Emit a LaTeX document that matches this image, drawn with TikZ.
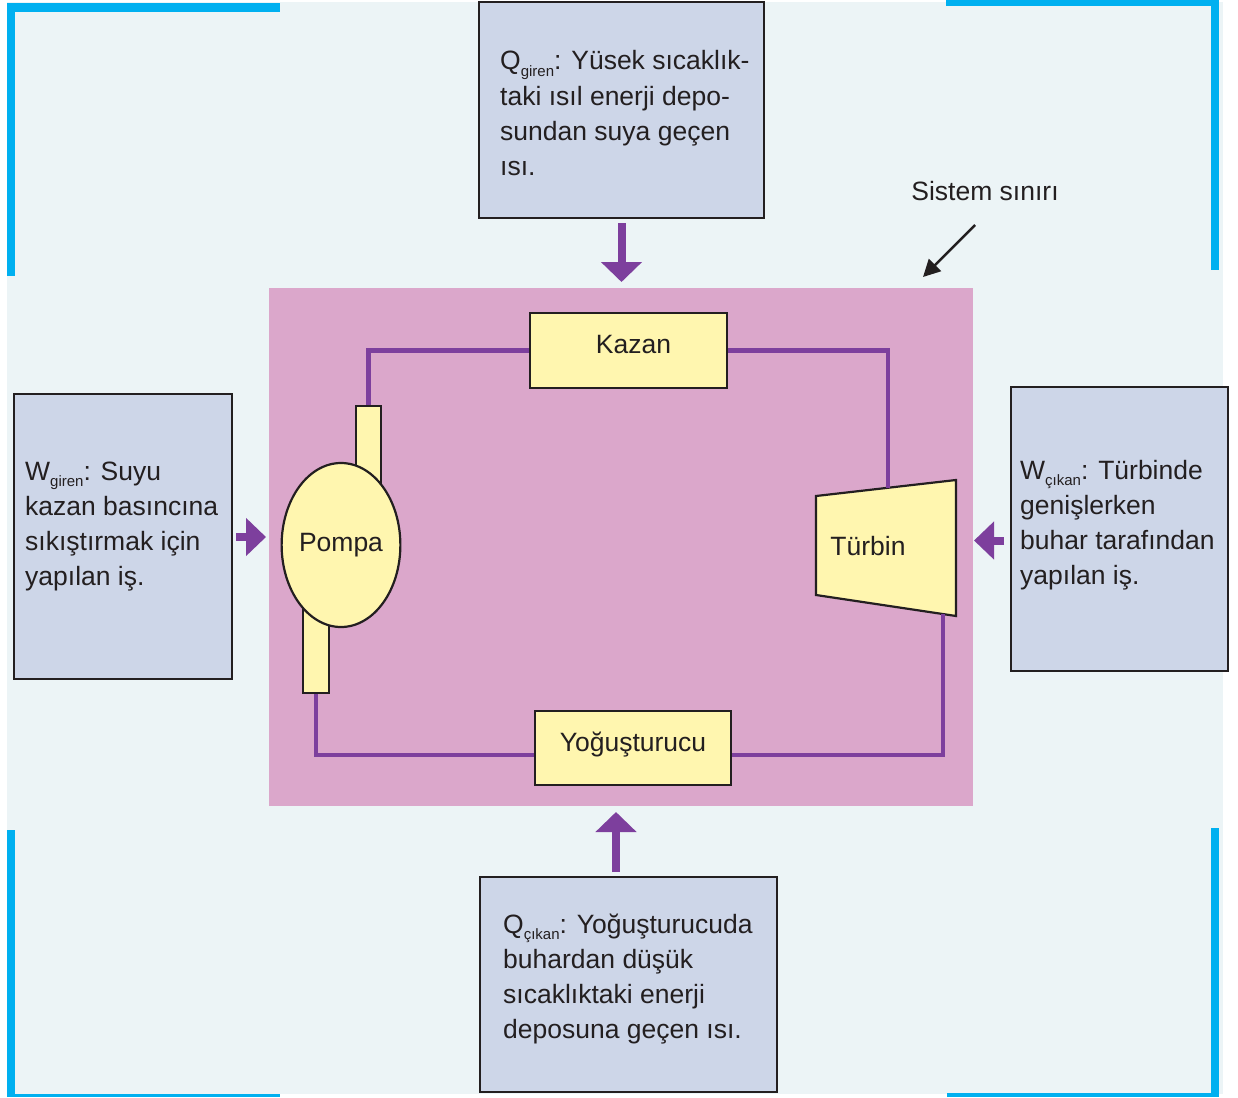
\documentclass[tikz,border=0pt]{standalone}
\usepackage{fontspec}
\setmainfont{Liberation Sans}
\usetikzlibrary{arrows.meta,shapes.geometric,calc}
\definecolor{panelbg}{RGB}{236,244,246}
\definecolor{frameblue}{RGB}{0,176,240}
\definecolor{syspink}{RGB}{219,167,203}
\definecolor{boxblue}{RGB}{205,214,232}
\definecolor{partyellow}{RGB}{255,246,175}
\definecolor{flowpurple}{RGB}{125,63,157}
\definecolor{edgegray}{RGB}{35,31,32}
\newcommand\lowsub[1]{\raisebox{-0.45ex}{\fontsize{15}{15}\selectfont #1}}
\begin{document}
\begin{tikzpicture}[x=1pt,y=-1pt,
  every node/.style={font=\fontsize{26.5}{35}\selectfont, text=edgegray},
  frame/.style={fill=frameblue, draw=none},
  infobox/.style={draw=edgegray, line width=2.2pt, fill=boxblue, inner sep=0pt},
  infotext/.style={align=left, inner sep=0pt, anchor=base west},
  part/.style={draw=edgegray, line width=2.2pt, fill=partyellow, inner sep=0pt},
  flow/.style={draw=flowpurple, line width=4.5pt},
  bigarrow/.style={draw=flowpurple, line width=8pt, -{Triangle[width=40pt,length=20pt]}}
]
\useasboundingbox (0,0) rectangle (1238,1097);
\fill[white] (0,0) rectangle (1238,1097);
\fill[panelbg] (7,2) rectangle (1223,1094);
% blue corner brackets
\fill[frame] (7,3) rectangle (280,12);
\fill[frame] (7,3) rectangle (15,276);
\fill[frame] (946,0) rectangle (1219,6);
\fill[frame] (1211,0) rectangle (1219,270);
\fill[frame] (7,830) rectangle (15,1097);
\fill[frame] (7,1094) rectangle (280,1097);
\fill[frame] (1211,828) rectangle (1219,1097);
\fill[frame] (947,1093) rectangle (1219,1097);
% system boundary
\node[fill=syspink, inner sep=0pt, minimum width=704pt, minimum height=518pt] (sys) at (621,547) {};
% info boxes
\node[infobox, minimum width=285pt, minimum height=216pt] (qin) at (621.5,110) {};
\node[infobox, minimum width=218pt, minimum height=285pt] (win) at (123,536.5) {};
\node[infobox, minimum width=217pt, minimum height=284pt] (wout) at (1119.5,529) {};
\node[infobox, minimum width=297pt, minimum height=215pt] (qout) at (628.5,984.5) {};
\node[infotext] (qintext) at (500,175) {Q\lowsub{giren}: Yüsek sıcaklık-\\taki ısıl enerji depo-\\sundan suya geçen\\ısı.};
\node[infotext] (wintext) at (25,585) {W\lowsub{giren}: Suyu\\kazan basıncına\\sıkıştırmak için\\yapılan iş.};
\node[infotext] (wouttext) at (1020,584) {W\lowsub{çıkan}: Türbinde\\genişlerken\\buhar tarafından\\yapılan iş.};
\node[infotext] (qouttext) at (503,1038) {Q\lowsub{çıkan}: Yoğuşturucuda\\buhardan düşük\\sıcaklıktaki enerji\\deposuna geçen ısı.};
% components
\node[part, minimum width=197pt, minimum height=75pt] (kazan) at (628.5,350.5) {\hspace{10pt}\raisebox{12pt}{Kazan}};
\node[part, minimum width=196pt, minimum height=74pt] (yog) at (633,748) {\raisebox{13pt}{Yoğuşturucu}\hspace{4pt}};
\node[part, minimum width=25pt, minimum height=94pt] (pipeup) at (368.5,453) {};
\node[part, minimum width=26pt, minimum height=93pt] (pipedn) at (316,646.5) {};
\node[part, ellipse, minimum width=118pt, minimum height=164pt] (pompa) at (341,545) {\raisebox{3pt}{Pompa}};
\draw[part] (816,496) coordinate (t1) -- (956,480) coordinate (t2) -- (956,616) coordinate (t3) -- (816,595) coordinate (t4) -- cycle;
\node[inner sep=0pt] (turbin) at (868,546) {Türbin};
\coordinate (ttop) at (888,488);
\coordinate (tbot) at (943,614);
% flow lines
\draw[flow] (kazan.west) -| (pipeup.north);
\draw[flow] (kazan.east) -| (ttop);
\draw[flow] (tbot) |- ([yshift=-7pt]yog.east);
\draw[flow] ([yshift=-7pt]yog.west) -| (pipedn.south);
% energy arrows
\coordinate (qinA) at (621.5,223);
\coordinate (qinB) at (621.5,282);
\draw[bigarrow] (qinA) -- (qinB);
\coordinate (qoutA) at (616,872);
\coordinate (qoutB) at (616,812);
\draw[bigarrow] (qoutA) -- (qoutB);
\coordinate (winA) at (236,537);
\coordinate (winB) at (266,537);
\draw[draw=flowpurple, line width=8pt, -{Triangle[width=37pt,length=20pt]}] (winA) -- (winB);
\coordinate (woutA) at (1004,540.5);
\coordinate (woutB) at (974,540.5);
\draw[draw=flowpurple, line width=8pt, -{Triangle[width=37pt,length=20pt]}] (woutA) -- (woutB);
% system boundary label
\node[inner sep=0pt] (sistem) at (985,191) {Sistem sınırı};
\coordinate (sisA) at (975,225);
\coordinate (sisB) at (923,277);
\draw[line width=2.5pt, draw=edgegray, -{Triangle[length=17pt,width=17pt]}] (sisA) -- (sisB);
\end{tikzpicture}
\end{document}
